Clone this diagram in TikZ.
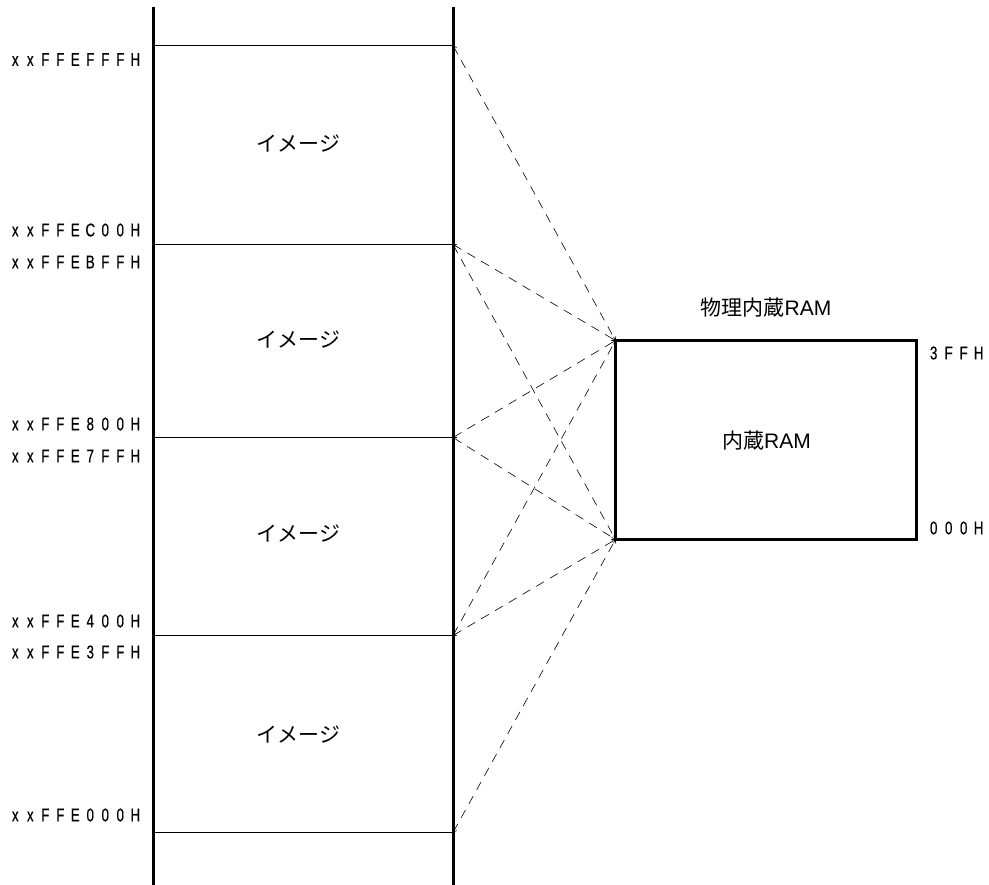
\documentclass[tikz,border=0pt]{standalone}
\usepackage{fontspec}
\setmainfont{Liberation Sans}
\newfontfamily\cjk{Noto Sans CJK JP}
\newfontfamily\narrowf[FakeStretch=0.72,FakeBold=0.4]{Liberation Sans}
\usetikzlibrary{arrows.meta}
\def\pp#1{\ifx#1\relax\else\makebox[15pt]{#1}\expandafter\pp\fi}
\tikzset{
  x=1pt,y=-1pt,
  wall/.style={line width=3pt},
  sep/.style={line width=1pt},
  box/.style={draw,line width=3pt,minimum width=301pt,minimum height=199pt,inner sep=0pt,outer sep=0pt},
  addr/.style={anchor=east,inner sep=0pt,font=\fontsize{18.5}{20}\narrowf},
  addrw/.style={anchor=west,inner sep=0pt,font=\fontsize{18.5}{20}\narrowf},
  lbl/.style={inner sep=0pt,font=\fontsize{21}{24}\selectfont},
  link/.style={dash pattern=on 9pt off 7pt,line width=.6pt,{Straight Barb[length=3pt,width=4.5pt,line width=.6pt]}-{Straight Barb[length=3pt,width=4.5pt,line width=.6pt]}}
}
\begin{document}
\begin{tikzpicture}
\useasboundingbox (0,0) rectangle (989,885);
\fill[white] (0,0) rectangle (989,885);
\coordinate (wl1) at (153,7); \coordinate (wl2) at (153,885);
\coordinate (wr1) at (453,7); \coordinate (wr2) at (453,885);
\draw[wall] (wl1) -- (wl2);
\draw[wall] (wr1) -- (wr2);
\foreach \n/\y in {a/45.5,b/244.5,c/437.5,d/635.5,e/832.5}{
  \coordinate (l\n) at (153,\y);
  \coordinate (r\n) at (453,\y);
  \draw[sep] (l\n) -- (r\n);
}
\node[box] (ram) at (766,440) {};
\node[lbl] (ramt) at (766.5,440.5) {{\cjk 内蔵}RAM};
\node[lbl] (phys) at (766,307.5) {{\cjk 物理内蔵}RAM};
\node[lbl] (i1) at (298.5,144) {\cjk イメージ};
\node[lbl] (i2) at (298.5,340) {\cjk イメージ};
\node[lbl] (i3) at (298.5,534) {\cjk イメージ};
\node[lbl] (i4) at (298.5,735) {\cjk イメージ};
\node[addr] (t1) at (143,59.5) {\pp xxFFEFFFH\relax};
\node[addr] (t2) at (143,230) {\pp xxFFEC00H\relax};
\node[addr] (t3) at (143,262) {\pp xxFFEBFFH\relax};
\node[addr] (t4) at (143,424) {\pp xxFFE800H\relax};
\node[addr] (t5) at (143,456) {\pp xxFFE7FFH\relax};
\node[addr] (t6) at (143,621) {\pp xxFFE400H\relax};
\node[addr] (t7) at (143,652) {\pp xxFFE3FFH\relax};
\node[addr] (t8) at (143,815) {\pp xxFFE000H\relax};
\node[addrw] (t9) at (926,353) {\pp 3FFH\relax};
\node[addrw] (t10) at (926,528) {\pp 000H\relax};
\draw[link] (ra) -- (ram.north west);
\draw[link] (rb) -- (ram.north west);
\draw[link] (rc) -- (ram.north west);
\draw[link] (rd) -- (ram.north west);
\draw[link] (rb) -- (ram.south west);
\draw[link] (rc) -- (ram.south west);
\draw[link] (rd) -- (ram.south west);
\draw[link] (re) -- (ram.south west);
\end{tikzpicture}
\end{document}
